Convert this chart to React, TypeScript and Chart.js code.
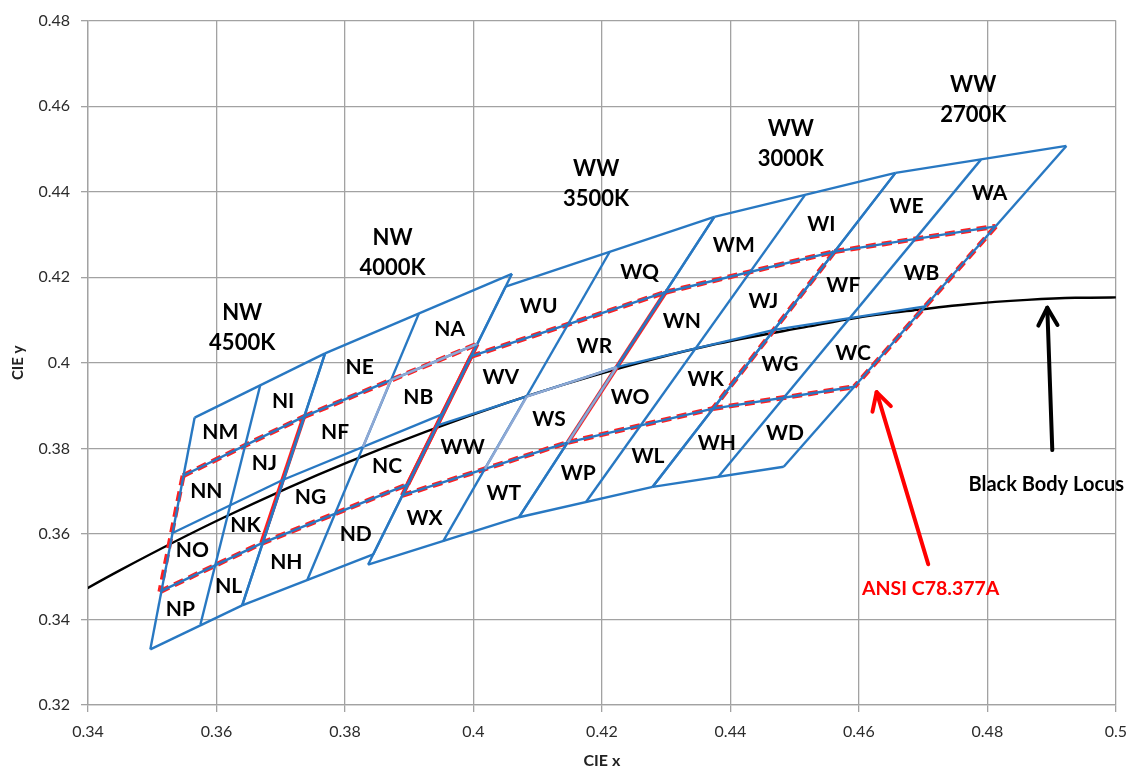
import React, { useEffect, useRef } from "react";
import { Chart, registerables } from "chart.js";

Chart.register(...registerables);

type Pt = [number, number];

// ---- axes ----
const X_MIN = 0.34;
const X_MAX = 0.5;
const Y_MIN = 0.32;
const Y_MAX = 0.48;
const TICK_STEP = 0.02;

// ---- bin grids: 5 rows (top outer .. bottom outer) x 3 columns (left, middle, right) ----
const NW_4500K: Pt[][] = [
  [[0.3566, 0.3872], [0.3668, 0.3947], [0.3769, 0.4022]],
  [[0.3548, 0.3736], [0.3642, 0.3805], [0.3736, 0.3874]],
  [[0.3530, 0.3601], [0.3617, 0.3664], [0.3703, 0.3726]],
  [[0.3512, 0.3465], [0.3591, 0.3522], [0.3670, 0.3578]],
  [[0.3497, 0.3330], [0.3575, 0.3388], [0.3640, 0.3433]],
];
const NW_4000K: Pt[][] = [
  [[0.3769, 0.4022], [0.3915, 0.4115], [0.4060, 0.4208]],
  [[0.3736, 0.3874], [0.3871, 0.3959], [0.4006, 0.4044]],
  [[0.3703, 0.3726], [0.3828, 0.3803], [0.3952, 0.3880]],
  [[0.3670, 0.3578], [0.3784, 0.3647], [0.3898, 0.3716]],
  [[0.3640, 0.3433], [0.3741, 0.3491], [0.3844, 0.3552]],
];
const WW_3500K: Pt[][] = [
  [[0.4050, 0.4178], [0.4212, 0.4259], [0.4375, 0.4341]],
  [[0.3996, 0.4015], [0.4148, 0.4090], [0.4299, 0.4165]],
  [[0.3943, 0.3853], [0.4083, 0.3921], [0.4223, 0.3990]],
  [[0.3889, 0.3690], [0.4018, 0.3752], [0.4147, 0.3814]],
  [[0.3836, 0.3528], [0.3953, 0.3583], [0.4071, 0.3639]],
];
const WW_3000K: Pt[][] = [
  [[0.4375, 0.4341], [0.4516, 0.4392], [0.4657, 0.4444]],
  [[0.4299, 0.4165], [0.4431, 0.4213], [0.4562, 0.4260]],
  [[0.4223, 0.3990], [0.4345, 0.4033], [0.4468, 0.4077]],
  [[0.4147, 0.3814], [0.4260, 0.3854], [0.4373, 0.3893]],
  [[0.4071, 0.3639], [0.4175, 0.3674], [0.4279, 0.3710]],
];
const WW_2700K: Pt[][] = [
  [[0.4657, 0.4444], [0.4790, 0.4475], [0.4923, 0.4507]],
  [[0.4562, 0.4260], [0.4688, 0.4290], [0.4813, 0.4319]],
  [[0.4468, 0.4077], [0.4585, 0.4104], [0.4703, 0.4132]],
  [[0.4373, 0.3893], [0.4483, 0.3919], [0.4593, 0.3944]],
  [[0.4279, 0.3710], [0.4381, 0.3733], [0.4483, 0.3757]],
];

// ---- bin codes (row x column) ----
const BINS_4500K = [["NM", "NI"], ["NN", "NJ"], ["NO", "NK"], ["NP", "NL"]];
const BINS_4000K = [["NE", "NA"], ["NF", "NB"], ["NG", "NC"], ["NH", "ND"]];
const BINS_3500K = [["WU", "WQ"], ["WV", "WR"], ["WW", "WS"], ["WX", "WT"]];
const BINS_3000K = [["WM", "WI"], ["WN", "WJ"], ["WO", "WK"], ["WP", "WL"]];
const BINS_2700K = [["WE", "WA"], ["WF", "WB"], ["WG", "WC"], ["WH", "WD"]];

const CCT_NAMES = [["NW", "4500K"], ["NW", "4000K"], ["WW", "3500K"], ["WW", "3000K"], ["WW", "2700K"]];

// ---- black body (Planckian) locus ----
const LOCUS_X = [0.3325, 0.3451, 0.3608, 0.3805, 0.4053, 0.4234, 0.4369, 0.4522, 0.4599, 0.4686, 0.4770, 0.4862, 0.4937, 0.5018];
const LOCUS_Y = [0.3411, 0.3516, 0.3636, 0.3768, 0.3907, 0.3990, 0.4041, 0.4085, 0.4106, 0.4123, 0.4137, 0.4147, 0.4152, 0.4153];

const GROUPS = [
  { grid: NW_4500K, bins: BINS_4500K },
  { grid: NW_4000K, bins: BINS_4000K },
  { grid: WW_3500K, bins: BINS_3500K },
  { grid: WW_3000K, bins: BINS_3000K },
  { grid: WW_2700K, bins: BINS_2700K },
];

// annotation placement (data coordinates)
const CCT_TITLE_POS: Pt[] = [[0.3640, 0.4081], [0.3874, 0.4257], [0.4191, 0.4419], [0.4494, 0.4512], [0.4778, 0.4614]];
const LOCUS_NOTE = { text: "Black Body Locus", at: [0.48917, 0.37147] as Pt, tail: [0.49011, 0.3796] as Pt, head: [0.48933, 0.41288] as Pt };
const ANSI_NOTE = { text: "ANSI C78.377A", at: [0.47118, 0.34709] as Pt, tail: [0.4708, 0.3529] as Pt, head: [0.46276, 0.39314] as Pt };

const BLUE = "#2878c2";
const LIGHT = "#8fa9d4";
const RED = "#ff1f1f";
const FONT = 'Lato, "Open Sans", sans-serif';

function lineDs(pts: Pt[], color: string, width: number, order: number, dash: number[] = [], smooth = false) {
  return {
    data: pts.map(([x, y]) => ({ x, y })),
    showLine: true,
    borderColor: color,
    backgroundColor: color,
    borderWidth: width,
    borderDash: dash,
    borderJoinStyle: "round",
    pointRadius: 0,
    pointHoverRadius: 0,
    fill: false,
    tension: 0,
    cubicInterpolationMode: smooth ? "monotone" : "default",
    order,
  } as any;
}

function buildDatasets() {
  const out: any[] = [];
  // blue grid
  GROUPS.forEach(({ grid }) => {
    for (let r = 0; r < 5; r++) out.push(lineDs([grid[r][0], grid[r][2]], BLUE, 2.4, 30));
    for (let c = 0; c < 3; c++) out.push(lineDs([grid[0][c], grid[4][c]], BLUE, 2.4, 30));
  });
  // highlighted (light) bin edges
  const hl: [Pt, Pt][] = [
    [NW_4000K[1][1], NW_4000K[2][1]],
    [NW_4000K[1][1], NW_4000K[1][2]],
    [WW_3500K[2][1], WW_3500K[3][1]],
    [WW_3500K[2][1], WW_3500K[2][2]],
    [WW_3500K[2][2], WW_3500K[3][2]],
  ];
  hl.forEach((s) => out.push(lineDs(s, LIGHT, 2.4, 20)));
  // ANSI quadrangles (red)
  GROUPS.forEach(({ grid }) => {
    out.push(lineDs([grid[1][0], grid[1][2]], RED, 5, 40, [10, 6]));
    out.push(lineDs([grid[3][0], grid[3][2]], RED, 5, 40, [10, 6]));
  });
  const sides: { pts: Pt[]; solid: boolean }[] = [
    { pts: [NW_4500K[1][0], NW_4500K[3][0]], solid: false },
    { pts: [NW_4500K[1][2], NW_4500K[3][2]], solid: true },
    { pts: [NW_4000K[1][2], NW_4000K[3][2]], solid: true },
    { pts: [WW_3500K[1][0], WW_3500K[3][0]], solid: true },
    { pts: [WW_3500K[1][2], WW_3500K[3][2]], solid: true },
    { pts: [WW_3000K[1][2], WW_3000K[3][2]], solid: false },
    { pts: [WW_2700K[1][2], WW_2700K[3][2]], solid: false },
  ];
  sides.forEach((s) => out.push(lineDs(s.pts, RED, s.solid ? 4.5 : 5, 40, s.solid ? [] : [10, 6])));
  // black body locus
  out.push(lineDs(LOCUS_X.map((x, i) => [x, LOCUS_Y[i]] as Pt), "#000", 2.4, 50, [], true));
  return out;
}

function drawArrow(ctx: CanvasRenderingContext2D, from: number[], to: number[], color: string) {
  const ang = Math.atan2(to[1] - from[1], to[0] - from[0]);
  const len = 20;
  const spread = 0.5;
  ctx.save();
  ctx.strokeStyle = color;
  ctx.lineWidth = 4;
  ctx.lineCap = "round";
  ctx.lineJoin = "round";
  ctx.beginPath();
  ctx.moveTo(from[0], from[1]);
  ctx.lineTo(to[0], to[1]);
  ctx.stroke();
  ctx.beginPath();
  ctx.moveTo(to[0] - len * Math.cos(ang - spread), to[1] - len * Math.sin(ang - spread));
  ctx.lineTo(to[0], to[1]);
  ctx.lineTo(to[0] - len * Math.cos(ang + spread), to[1] - len * Math.sin(ang + spread));
  ctx.stroke();
  ctx.restore();
}

const labelsPlugin = {
  id: "binLabels",
  afterDatasetsDraw(chart: any) {
    const { ctx } = chart;
    const xs = chart.scales.x;
    const ys = chart.scales.y;
    const px = (p: Pt) => [xs.getPixelForValue(p[0]), ys.getPixelForValue(p[1])];
    ctx.save();
    ctx.textAlign = "center";
    ctx.textBaseline = "middle";
    ctx.fillStyle = "#000";
    ctx.font = `bold 21px ${FONT}`;
    GROUPS.forEach(({ grid, bins }) => {
      for (let r = 0; r < 4; r++) {
        for (let c = 0; c < 2; c++) {
          const q = [grid[r][c], grid[r][c + 1], grid[r + 1][c + 1], grid[r + 1][c]];
          const cx = (q[0][0] + q[1][0] + q[2][0] + q[3][0]) / 4;
          const cy = (q[0][1] + q[1][1] + q[2][1] + q[3][1]) / 4;
          const [X, Y] = px([cx, cy]);
          ctx.fillText(bins[r][c], X, Y + 1);
        }
      }
    });
    ctx.font = `bold 22px ${FONT}`;
    CCT_NAMES.forEach((lines, i) => {
      const [X, Y] = px(CCT_TITLE_POS[i]);
      ctx.fillText(lines[0], X, Y - 15);
      ctx.fillText(lines[1], X, Y + 15);
    });
    drawArrow(ctx, px(LOCUS_NOTE.tail), px(LOCUS_NOTE.head), "#000");
    drawArrow(ctx, px(ANSI_NOTE.tail), px(ANSI_NOTE.head), "#ff0000");
    ctx.font = `bold 20px ${FONT}`;
    let [X, Y] = px(LOCUS_NOTE.at);
    ctx.fillStyle = "#000";
    ctx.fillText(LOCUS_NOTE.text, X, Y);
    ctx.font = `bold 19.5px ${FONT}`;
    [X, Y] = px(ANSI_NOTE.at);
    ctx.fillStyle = "#ff0000";
    ctx.fillText(ANSI_NOTE.text, X, Y);
    ctx.restore();
  },
};

export default function App() {
  const ref = useRef<HTMLCanvasElement>(null);
  useEffect(() => {
    document.body.style.margin = "0";
    Chart.defaults.font.family = FONT;
    const grid = { color: "#a2a2a2", lineWidth: 1.3, tickLength: 7, drawTicks: true };
    const border = { color: "#a2a2a2", width: 1.3 };
    const fmt = (v: any) => String(Math.round(Number(v) * 100) / 100);
    const chart = new Chart(ref.current as HTMLCanvasElement, {
      type: "scatter",
      data: { datasets: buildDatasets() },
      options: {
        animation: false,
        responsive: false,
        events: [],
        layout: { padding: { top: 16, right: 19, bottom: 0, left: 0 } },
        plugins: { legend: { display: false }, tooltip: { enabled: false } },
        scales: {
          x: {
            type: "linear",
            position: "bottom",
            min: X_MIN,
            max: X_MAX,
            grid,
            border,
            ticks: { stepSize: TICK_STEP, callback: fmt, padding: 10, color: "#2b2b2b", font: { size: 16 } },
            title: { display: true, text: "CIE x", color: "#222", font: { size: 16, weight: "bold" }, padding: { top: 0, bottom: 4 } },
            afterFit: (s: any) => {
              s.height = 69;
            },
          },
          y: {
            type: "linear",
            position: "left",
            min: Y_MIN,
            max: Y_MAX,
            grid,
            border,
            ticks: { stepSize: TICK_STEP, callback: fmt, padding: 11, color: "#2b2b2b", font: { size: 16 } },
            title: { display: true, text: "CIE y", color: "#222", font: { size: 15, weight: "bold" }, padding: { top: 9, bottom: 0 } },
            afterFit: (s: any) => {
              s.width = 88;
            },
          },
        },
      } as any,
      plugins: [labelsPlugin],
    });
    return () => chart.destroy();
  }, []);
  return <canvas ref={ref} width={1137} height={774} style={{ display: "block" }} />;
}
